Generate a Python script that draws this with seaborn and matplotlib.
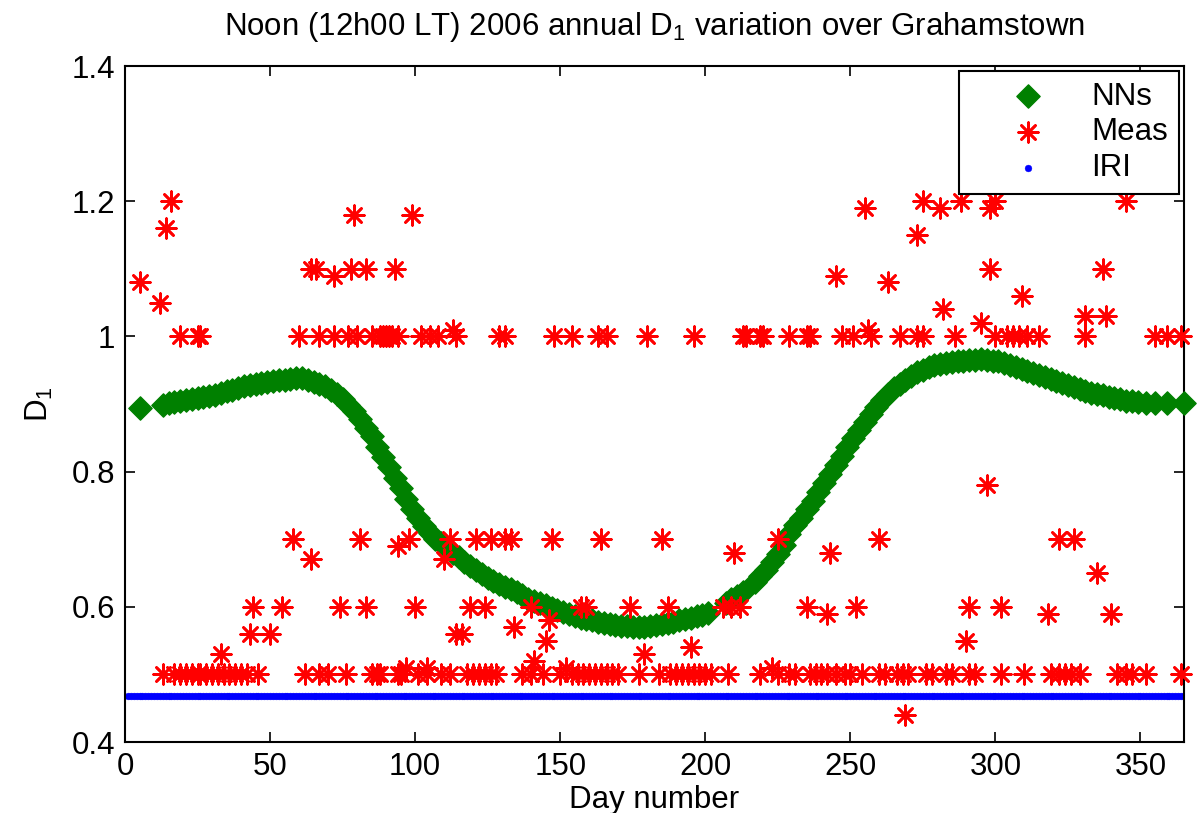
import matplotlib
matplotlib.use("Agg")
import matplotlib.pyplot as plt
from matplotlib.ticker import FormatStrFormatter
import seaborn as sns
import pandas as pd

# ---------------- data ----------------
nn_day = [5,
          13, 15, 17, 19, 21, 23, 25, 27, 29, 31, 33, 35, 37, 39, 41, 43, 45, 47, 49,
          51, 53, 55, 57, 59, 61, 63, 65, 67, 69, 71, 73, 75, 77, 79, 81, 83, 85, 87, 89,
          91, 93, 95, 97, 99, 101, 103, 105, 107, 109, 111, 113, 115, 117, 119, 121, 123, 125, 127, 129,
          131, 133, 135, 137, 139, 141, 143, 145, 147, 149, 151, 153, 155, 157, 159, 161, 163, 165, 167, 169,
          171, 173, 175, 177, 179, 181, 183, 185, 187, 189, 191, 193, 195, 197, 199, 201,
          207, 209, 211, 213,
          217, 219, 221, 223, 225, 227, 229, 231, 233, 235, 237, 239, 241, 243, 245, 247, 249,
          251, 253, 255, 257, 259, 261, 263, 265, 267, 269, 271, 273, 275, 277, 279, 281, 283, 285, 287, 289,
          291, 293, 295, 297, 299, 301, 303, 305, 307, 309, 311, 313, 315, 317, 319, 321, 323, 325, 327, 329,
          331, 333, 335, 337, 339, 341, 343, 345, 347, 349, 352, 355, 359, 365]
nn_d1 = [0.894,
         0.899, 0.901, 0.903, 0.905, 0.906, 0.907, 0.909, 0.910, 0.912, 0.914, 0.916, 0.919, 0.921, 0.924, 0.926, 0.928, 0.930, 0.931, 0.933,
         0.934, 0.935, 0.936, 0.937, 0.938, 0.938, 0.936, 0.933, 0.930, 0.926, 0.921, 0.915, 0.908, 0.899, 0.889, 0.878, 0.865, 0.852, 0.837, 0.822,
         0.807, 0.791, 0.776, 0.760, 0.745, 0.731, 0.719, 0.709, 0.701, 0.694, 0.687, 0.680, 0.674, 0.667, 0.661, 0.655, 0.648, 0.643, 0.638, 0.634,
         0.630, 0.626, 0.622, 0.617, 0.612, 0.609, 0.605, 0.602, 0.598, 0.595, 0.592, 0.589, 0.587, 0.584, 0.582, 0.580, 0.578, 0.576, 0.574, 0.573,
         0.572, 0.571, 0.570, 0.570, 0.570, 0.571, 0.573, 0.575, 0.576, 0.578, 0.580, 0.582, 0.584, 0.586, 0.588, 0.591,
         0.606, 0.611, 0.616, 0.622,
         0.636, 0.645, 0.654, 0.666, 0.678, 0.692, 0.707, 0.721, 0.732, 0.744, 0.757, 0.770, 0.783, 0.797, 0.810, 0.823, 0.836,
         0.849, 0.861, 0.873, 0.885, 0.896, 0.906, 0.915, 0.923, 0.930, 0.936, 0.942, 0.947, 0.951, 0.954, 0.957, 0.959, 0.961, 0.962, 0.963, 0.964,
         0.965, 0.965, 0.966, 0.965, 0.964, 0.963, 0.961, 0.958, 0.955, 0.952, 0.949, 0.946, 0.943, 0.940, 0.937, 0.934, 0.931, 0.928, 0.925, 0.922,
         0.919, 0.917, 0.915, 0.913, 0.911, 0.909, 0.907, 0.905, 0.904, 0.903, 0.902, 0.901, 0.901, 0.901]

meas_day = [
    # D1 = 1.0 level
    19, 25, 26, 60, 67, 72, 77, 80, 85, 88, 89, 90, 91, 92, 94, 102, 105, 108, 114, 129, 131,
    148, 154, 163, 166, 180, 196, 213, 214, 219, 220, 229, 235, 236, 247, 251, 257, 267, 273, 275,
    286, 300, 304, 306, 308, 311, 315, 331, 355, 359, 364,
    113, 256,
    # upper values
    5, 12, 14, 16, 64, 66, 72, 78, 83, 79, 93, 99, 245, 255, 263, 273, 275, 281, 288, 298, 298,
    300, 345, 337, 309, 282, 295, 331, 338,
    # 0.65 - 0.8
    58, 81, 94, 98, 112, 121, 126, 131, 133, 147, 164, 185, 225, 260, 322, 327,
    64, 110, 210, 243, 335, 297,
    # 0.6 level
    44, 54, 74, 83, 100, 119, 124, 140, 157, 159, 174, 187, 206, 209, 212, 235, 252, 291, 302,
    242, 318, 340, 43, 50, 114, 116, 134, 146, 145, 290, 195, 33, 179, 141, 97, 104, 152, 223, 269,
    # 0.5 level
    13, 17, 19, 21, 23, 25, 26, 28, 30, 32, 34, 36, 38, 40, 42, 46, 62, 67, 70, 76, 85, 87, 94,
    88, 95, 101, 104, 109, 112, 118, 120, 122, 124, 126, 128, 137, 140, 144, 150,
    154, 156, 158, 160, 162, 164, 166, 168, 170, 177, 184, 188, 190,
    192, 194, 196, 198, 200, 202, 208, 219, 225, 229, 231, 236, 238, 240, 242, 245, 248, 250, 254,
    260, 262, 266, 268, 270, 276, 278, 283, 285, 291, 293, 302, 310, 319, 322, 324, 326, 329,
    342, 345, 347, 352, 364]
meas_d1 = [
    1.00, 1.00, 1.00, 1.00, 1.00, 1.00, 1.00, 1.00, 1.00, 1.00, 1.00, 1.00, 1.00, 1.00, 1.00, 1.00, 1.00, 1.00, 1.00, 1.00, 1.00,
    1.00, 1.00, 1.00, 1.00, 1.00, 1.00, 1.00, 1.00, 1.00, 1.00, 1.00, 1.00, 1.00, 1.00, 1.00, 1.00, 1.00, 1.00, 1.00,
    1.00, 1.00, 1.00, 1.00, 1.00, 1.00, 1.00, 1.00, 1.00, 1.00, 1.00,
    1.01, 1.01,
    1.08, 1.05, 1.16, 1.20, 1.10, 1.10, 1.09, 1.10, 1.10, 1.18, 1.10, 1.18, 1.09, 1.19, 1.08, 1.15, 1.20, 1.19, 1.20, 1.19, 1.10,
    1.20, 1.20, 1.10, 1.06, 1.04, 1.02, 1.03, 1.03,
    0.70, 0.70, 0.69, 0.70, 0.70, 0.70, 0.70, 0.70, 0.70, 0.70, 0.70, 0.70, 0.70, 0.70, 0.70, 0.70,
    0.67, 0.67, 0.68, 0.68, 0.65, 0.78,
    0.60, 0.60, 0.60, 0.60, 0.60, 0.60, 0.60, 0.60, 0.60, 0.60, 0.60, 0.60, 0.60, 0.60, 0.60, 0.60, 0.60, 0.60, 0.60,
    0.59, 0.59, 0.59, 0.56, 0.56, 0.56, 0.56, 0.57, 0.58, 0.55, 0.55, 0.54, 0.53, 0.53, 0.52, 0.51, 0.51, 0.51, 0.51, 0.44,
    0.50, 0.50, 0.50, 0.50, 0.50, 0.50, 0.50, 0.50, 0.50, 0.50, 0.50, 0.50, 0.50, 0.50, 0.50, 0.50, 0.50, 0.50, 0.50, 0.50, 0.50, 0.50, 0.50,
    0.50, 0.50, 0.50, 0.50, 0.50, 0.50, 0.50, 0.50, 0.50, 0.50, 0.50, 0.50, 0.50, 0.50, 0.50, 0.50,
    0.50, 0.50, 0.50, 0.50, 0.50, 0.50, 0.50, 0.50, 0.50, 0.50, 0.50, 0.50, 0.50,
    0.50, 0.50, 0.50, 0.50, 0.50, 0.50, 0.50, 0.50, 0.50, 0.50, 0.50, 0.50, 0.50, 0.50, 0.50, 0.50, 0.50, 0.50, 0.50,
    0.50, 0.50, 0.50, 0.50, 0.50, 0.50, 0.50, 0.50, 0.50, 0.50, 0.50, 0.50, 0.50, 0.50, 0.50, 0.50, 0.50, 0.50,
    0.50, 0.50, 0.50, 0.50, 0.50]

iri_day = list(range(1, 366))
iri_d1 = [0.468] * 365

x_ticks = [0, 50, 100, 150, 200, 250, 300, 350]
y_ticks = [0.4, 0.6, 0.8, 1.0, 1.2, 1.4]

title_text = "Noon (12h00 LT) 2006 annual D$_1$ variation over Grahamstown"
x_label = "Day number"
y_label = "D$_1$"
series_labels = ["NNs", "Meas", "IRI"]

# ---------------- style ----------------
sns.set_style("ticks")
plt.rcParams["font.family"] = ["Liberation Sans", "DejaVu Sans"]
plt.rcParams["mathtext.default"] = "regular"
for key in ["text.color", "axes.labelcolor", "xtick.color", "ytick.color", "axes.edgecolor"]:
    plt.rcParams[key] = "black"
FS = 22.5

nn_df = pd.DataFrame({"day": nn_day, "D1": nn_d1})
meas_df = pd.DataFrame({"day": meas_day, "D1": meas_d1})
iri_df = pd.DataFrame({"day": iri_day, "D1": iri_d1})

fig = plt.figure(figsize=(11.97, 8.13), dpi=100)
ax = fig.add_axes([125 / 1197, 1 - 742 / 813, (1184 - 125) / 1197, (742 - 66) / 813])

sns.scatterplot(data=nn_df, x="day", y="D1", ax=ax, marker="D", s=140,
                color="#008000", edgecolor="#008000", linewidth=1.0,
                label=series_labels[0], clip_on=False, zorder=3)
sns.scatterplot(data=meas_df, x="day", y="D1", ax=ax, marker=(8, 2, 0), s=200,
                color="#ff0000", linewidth=1.9,
                label=series_labels[1], clip_on=False, zorder=4)
sns.scatterplot(data=iri_df, x="day", y="D1", ax=ax, marker="o", s=24,
                color="#0000ff", edgecolor="#0000ff", linewidth=0.3,
                label=series_labels[2], zorder=2)

ax.set_xlim(0, 365)
ax.set_ylim(0.4, 1.4)
ax.set_xticks(x_ticks)
ax.set_yticks(y_ticks)
ax.yaxis.set_major_formatter(FormatStrFormatter("%g"))
ax.tick_params(direction="in", length=7, width=1.2, top=True, right=True,
               labelsize=FS, pad=7, colors="black")
for sp in ax.spines.values():
    sp.set_linewidth(1.5)
    sp.set_color("black")
    sp.set_visible(True)

ax.set_title(title_text, fontsize=FS, pad=22, color="black")
ax.set_xlabel(x_label, fontsize=FS, labelpad=2)
ax.set_ylabel(y_label, fontsize=FS, labelpad=12)

leg = ax.legend(loc="upper right", fontsize=FS, frameon=True, fancybox=False,
                framealpha=1, edgecolor="black", labelspacing=0.18,
                handlelength=3.7, handletextpad=0.2, borderpad=0.35,
                borderaxespad=0.15, scatterpoints=1)
leg.get_frame().set_linewidth(1.5)

fig.savefig("out.png", dpi=100)
